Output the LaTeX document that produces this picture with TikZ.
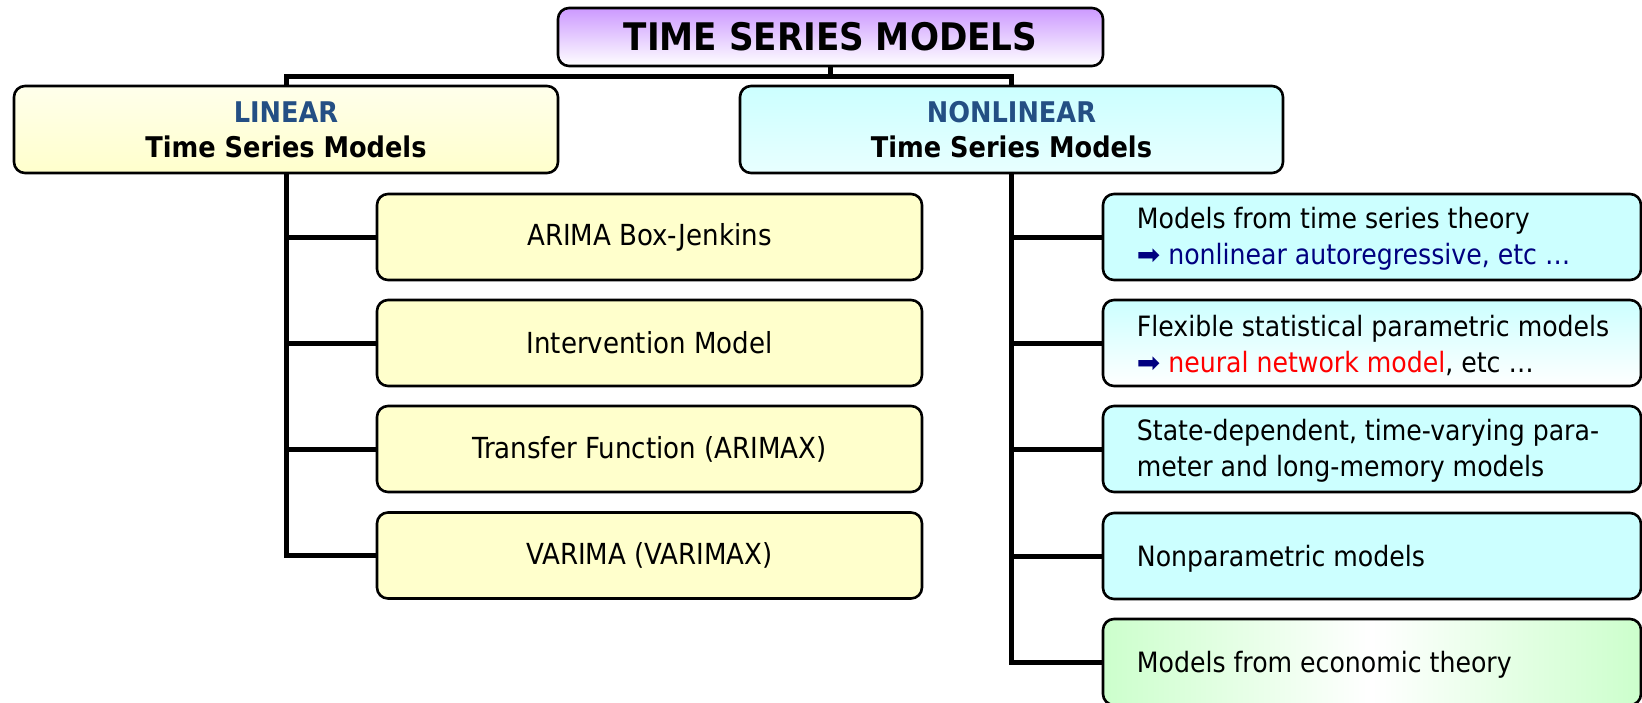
\documentclass[tikz,border=0pt]{standalone}
\usepackage{fontspec}
\setmainfont{DejaVu Sans Condensed}
\newfontfamily\symfont{DejaVu Sans}
\definecolor{hdrblue}{RGB}{36,79,132}
\definecolor{navyt}{RGB}{0,0,128}
\definecolor{titlepurple}{RGB}{204,153,255}
\definecolor{ylw}{RGB}{255,255,204}
\definecolor{ylwlight}{RGB}{255,255,235}
\definecolor{cyn}{RGB}{204,255,255}
\definecolor{cynlight}{RGB}{232,255,255}
\definecolor{grn}{RGB}{204,255,204}
\begin{document}
\begin{tikzpicture}[x=1pt,y=-1pt,
  box/.style={draw=black, line width=2.6pt, rounded corners=11pt, inner sep=0pt, align=center},
  titlebox/.style={box, top color=titlepurple, bottom color=white, minimum width=545pt, minimum height=58pt, font=\fontsize{38}{44}\selectfont\bfseries},
  linbox/.style={box, top color=ylwlight, bottom color=ylw, minimum width=544pt, minimum height=87pt, font=\fontsize{28.5}{35}\selectfont\bfseries},
  nonlinbox/.style={box, top color=cyn, bottom color=cynlight, minimum width=543pt, minimum height=87pt, font=\fontsize{28.5}{35}\selectfont\bfseries},
  lchild/.style={box, fill=ylw, minimum width=545pt, minimum height=86pt, font=\fontsize{29}{36}\selectfont},
  rchild/.style={box, fill=cyn, minimum width=538pt, minimum height=86pt},
  rtext/.style={anchor=west, align=left, inner sep=0pt, font=\fontsize{28}{36}\selectfont},
  conn/.style={line width=5pt}
]
\useasboundingbox (0,0) rectangle (1642,702);

\node[titlebox] (root) at (830.5,37) {TIME SERIES MODELS};
\node[linbox] (lin) at (286,129.5) {\textcolor{hdrblue}{LINEAR}\\Time Series Models};
\node[nonlinbox] (nonlin) at (1011.5,129.5) {\textcolor{hdrblue}{NONLINEAR}\\Time Series Models};

\node[lchild] (l1) at (649.5,237) {ARIMA Box-Jenkins};
\node[lchild] (l2) at (649.5,343) {Intervention Model};
\node[lchild] (l3) at (649.5,449) {Transfer Function (ARIMAX)};
\node[lchild] (l4) at (649.5,555.5) {VARIMA (VARIMAX)};

\node[rchild] (r1) at (1372,237) {};
\node[rchild, top color=cyn, bottom color=white] (r2) at (1372,343) {};
\node[rchild] (r3) at (1372,449) {};
\node[rchild] (r4) at (1372,556) {};
\node[rchild, left color=grn, right color=grn, middle color=white] (r5) at (1372,662) {};

\node[rtext] (t1) at ([xshift=35pt,yshift=-2pt]r1.west) {Models from time series theory\\{\color{navyt}\symfont ➡} \textcolor{navyt}{nonlinear autoregressive, etc …}};
\node[rtext] (t2) at ([xshift=35pt,yshift=-2pt]r2.west) {Flexible statistical parametric models\\{\color{navyt}\symfont ➡} \textcolor{red}{neural network model}, etc …};
\node[rtext] (t3) at ([xshift=35pt,yshift=-2pt]r3.west) {State-dependent, time-varying para-\\meter and long-memory models};
\node[rtext] (t4) at ([xshift=35pt,yshift=-3pt]r4.west) {Nonparametric models};
\node[rtext] (t5) at ([xshift=35pt,yshift=-3pt]r5.west) {Models from economic theory};

\coordinate (bar) at (0,76.5);
\draw[conn] (root.south) -- (root.south |- bar);
\draw[conn] (lin.north) -- (lin.north |- bar) -- (nonlin.north |- bar) -- (nonlin.north);

\draw[conn] (lin.south) |- (l4.west);
\foreach \c in {l1,l2,l3} \draw[conn] (lin.south |- \c.west) -- (\c.west);

\draw[conn] (nonlin.south) |- (r5.west);
\foreach \c in {r1,r2,r3,r4} \draw[conn] (nonlin.south |- \c.west) -- (\c.west);
\end{tikzpicture}
\end{document}
